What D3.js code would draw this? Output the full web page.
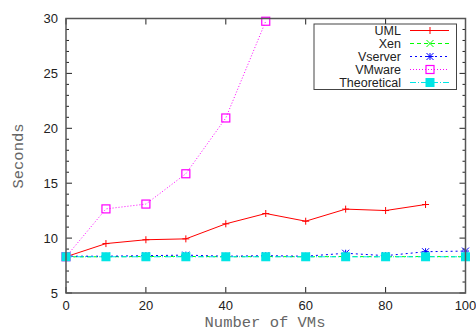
<!DOCTYPE html>
<html><head><meta charset="utf-8">
<script src="https://cdn.jsdelivr.net/npm/d3@7"></script>
<style>body{margin:0;background:#fff}svg{display:block}</style>
</head><body><svg id="c" width="476" height="331"></svg>
<script>
const vmCounts = [0,10,20,30,40,50,60,70,80,90,100];
const umlValues = [8.3,9.5,9.85,9.93,11.3,12.24,11.54,12.64,12.51,13.06];
const xenValues = [8.3,8.3,8.32,8.33,8.3,8.32,8.3,8.32,8.3,8.32,8.3];
const vserverValues = [8.35,8.35,8.4,8.45,8.35,8.4,8.35,8.62,8.4,8.76,8.82];
const vmwareValues = [8.3,12.66,13.1,15.86,20.94,29.75];
const theoreticalValues = [8.3,8.3,8.3,8.3,8.3,8.3,8.3,8.3,8.3,8.3,8.3];
const xTicks = [0,20,40,60,80,100];
const yTicks = [5,10,15,20,25,30];
const seriesNames = ["UML","Xen","Vserver","VMware","Theoretical"];

const series = [
  {name:seriesNames[0], vals:umlValues, color:"#ff0000", dash:null, marker:"plus"},
  {name:seriesNames[1], vals:xenValues, color:"#00ff00", dash:"4,3", marker:"cross"},
  {name:seriesNames[2], vals:vserverValues, color:"#0000ff", dash:"2,3", marker:"star"},
  {name:seriesNames[3], vals:vmwareValues, color:"#ff00ff", dash:"1,2", marker:"square"},
  {name:seriesNames[4], vals:theoreticalValues, color:"#00e5e5", dash:"6,2,1,2", marker:"fsquare"}
];

const svg = d3.select("#c");
const L=66, R=465.5, T=18.5, B=293;
const x = d3.scaleLinear().domain([0,100]).range([L,R]);
const y = d3.scaleLinear().domain([5,30]).range([B,T]);
const tickFont = "Liberation Sans, Arial, sans-serif";
const titleFont = "Liberation Mono, Courier New, monospace";

const g = svg.append("g");
d3.range(5,31,1).forEach(v=>{
  const len = v%5===0 ? 6 : 3;
  g.append("line").attr("x1",L).attr("x2",L+len).attr("y1",y(v)).attr("y2",y(v)).attr("stroke","#222").attr("stroke-width",1);
  g.append("line").attr("x1",R).attr("x2",R-len).attr("y1",y(v)).attr("y2",y(v)).attr("stroke","#222").attr("stroke-width",1);
});
d3.range(0,101,20).forEach(v=>{
  g.append("line").attr("x1",x(v)).attr("x2",x(v)).attr("y1",B).attr("y2",B-6).attr("stroke","#222");
  g.append("line").attr("x1",x(v)).attr("x2",x(v)).attr("y1",T).attr("y2",T+6).attr("stroke","#222");
});
yTicks.forEach(v=>{
  svg.append("text").attr("x",L-8).attr("y",y(v)+4.5).attr("text-anchor","end")
    .attr("font-family",tickFont).attr("font-size",13).attr("fill","#222").text(v);
});
xTicks.forEach(v=>{
  svg.append("text").attr("x",x(v)).attr("y",B+17).attr("text-anchor","middle")
    .attr("font-family",tickFont).attr("font-size",13).attr("fill","#222").text(v);
});
svg.append("text").attr("x",265).attr("y",327).attr("text-anchor","middle")
  .attr("font-family",titleFont).attr("font-size",15.5).attr("fill","#666").text("Number of VMs");
svg.append("text").attr("transform","translate(23,156) rotate(-90)").attr("text-anchor","middle")
  .attr("font-family",titleFont).attr("font-size",15.5).attr("fill","#666").text("Seconds");

function drawMarker(sel, type, cx, cy, color){
  const s=3.5;
  if(type==="plus"){
    sel.append("path").attr("d",`M${cx-s},${cy}H${cx+s}M${cx},${cy-s}V${cy+s}`).attr("stroke",color).attr("stroke-width",1);
  } else if(type==="cross"){
    sel.append("path").attr("d",`M${cx-s},${cy-s}L${cx+s},${cy+s}M${cx-s},${cy+s}L${cx+s},${cy-s}`).attr("stroke",color).attr("stroke-width",1);
  } else if(type==="star"){
    sel.append("path").attr("d",`M${cx-s},${cy}H${cx+s}M${cx},${cy-s}V${cy+s}M${cx-s},${cy-s}L${cx+s},${cy+s}M${cx-s},${cy+s}L${cx+s},${cy-s}`).attr("stroke",color).attr("stroke-width",1);
  } else if(type==="square"){
    sel.append("rect").attr("x",cx-4).attr("y",cy-4).attr("width",8).attr("height",8).attr("fill","none").attr("stroke",color).attr("stroke-width",1.2);
  } else if(type==="fsquare"){
    sel.append("rect").attr("x",cx-4.5).attr("y",cy-4.5).attr("width",9).attr("height",9).attr("fill",color);
  }
}

const line = d3.line().x((d,i)=>x(vmCounts[i])).y(d=>y(d));
series.forEach(s=>{
  const gg = svg.append("g");
  gg.append("path").datum(s.vals).attr("d",line).attr("fill","none").attr("stroke",s.color)
    .attr("stroke-width",1).attr("stroke-dasharray",s.dash);
  s.vals.forEach((v,i)=>drawMarker(gg,s.marker,x(vmCounts[i]),y(v),s.color));
});

svg.append("rect").attr("x",L).attr("y",T).attr("width",R-L).attr("height",B-T)
  .attr("fill","none").attr("stroke","#555").attr("stroke-width",1.5);

const lg = svg.append("g");
lg.append("rect").attr("x",314).attr("y",24).attr("width",142.5).attr("height",65.5)
  .attr("fill","#fff").attr("stroke","#444").attr("stroke-width",1);
series.forEach((s,i)=>{
  const ly = 30.5 + i*13;
  lg.append("text").attr("x",401).attr("y",ly+4.3).attr("text-anchor","end")
    .attr("font-family",tickFont).attr("font-size",12.5).attr("fill","#222").text(s.name);
  lg.append("line").attr("x1",410).attr("x2",449).attr("y1",ly).attr("y2",ly)
    .attr("stroke",s.color).attr("stroke-width",1).attr("stroke-dasharray",s.dash);
  drawMarker(lg,s.marker,430,ly,s.color);
});
</script></body></html>
